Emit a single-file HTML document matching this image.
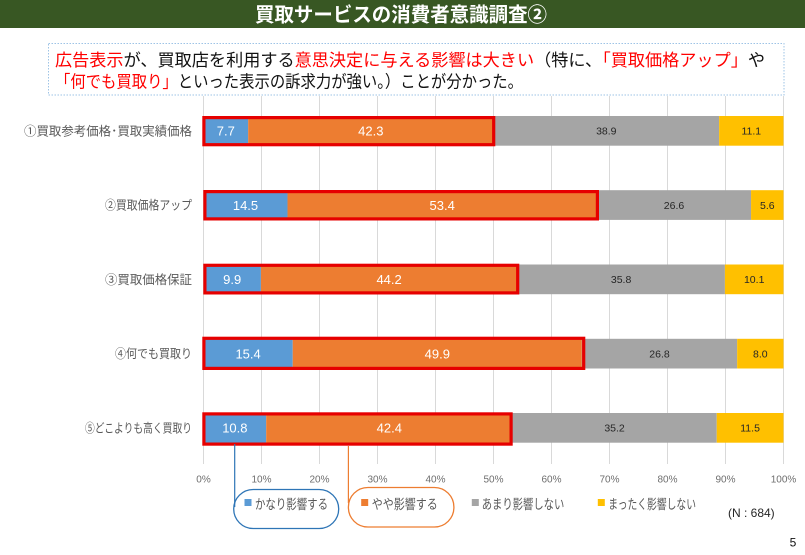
<!DOCTYPE html>
<html><head><meta charset="utf-8"><style>
html,body{margin:0;padding:0;background:#fff;}
svg{display:block;}
text{font-family:"Liberation Sans","Noto Sans CJK JP",sans-serif;}
</style></head><body>
<svg width="805" height="555" viewBox="0 0 805 555" xmlns="http://www.w3.org/2000/svg">
<rect x="0" y="0" width="805" height="555" fill="#fff"/>
<!-- title bar -->
<rect x="0" y="0" width="805" height="28" fill="#385723"/>
<text x="255" y="21.5" font-size="20" font-weight="bold" fill="#fff" textLength="292" lengthAdjust="spacingAndGlyphs">買取サービスの消費者意識調査②</text>

<!-- text box -->
<rect x="48.5" y="43.5" width="735.5" height="51.5" fill="#fff" stroke="#9dc3e6" stroke-width="1" stroke-dasharray="1.5,1.5"/>
<text x="55" y="66" font-size="17" fill="#111" textLength="710" lengthAdjust="spacingAndGlyphs"><tspan fill="#ff0000">広告表示</tspan>が、買取店を利用する<tspan fill="#ff0000">意思決定に与える影響は大きい</tspan>（特に、<tspan fill="#ff0000">「買取価格アップ」</tspan>や</text>
<text x="55" y="87.5" font-size="17" fill="#111" textLength="468" lengthAdjust="spacingAndGlyphs"><tspan fill="#ff0000">「何でも買取り」</tspan>といった表示の訴求力が強い。）ことが分かった。</text>

<!-- gridlines -->
<g stroke="#d9d9d9" stroke-width="1">
<line x1="203.5" y1="96" x2="203.5" y2="464"/>
<line x1="261.5" y1="96" x2="261.5" y2="464"/>
<line x1="319.5" y1="96" x2="319.5" y2="464"/>
<line x1="377.5" y1="96" x2="377.5" y2="464"/>
<line x1="435.5" y1="96" x2="435.5" y2="464"/>
<line x1="493.5" y1="96" x2="493.5" y2="464"/>
<line x1="551.5" y1="96" x2="551.5" y2="464"/>
<line x1="609.5" y1="96" x2="609.5" y2="464"/>
<line x1="667.5" y1="96" x2="667.5" y2="464"/>
<line x1="725.5" y1="96" x2="725.5" y2="464"/>
<line x1="783.5" y1="96" x2="783.5" y2="464"/>
</g>

<!-- bars -->
<g>
<rect x="203.5" y="116" width="44.66" height="29.7" fill="#5b9bd5"/>
<rect x="248.16" y="116" width="245.34" height="29.7" fill="#ed7d31"/>
<rect x="493.5" y="116" width="225.62" height="29.7" fill="#a5a5a5"/>
<rect x="719.12" y="116" width="64.38" height="29.7" fill="#ffc000"/>

<rect x="203.5" y="190.2" width="84.02" height="29.7" fill="#5b9bd5"/>
<rect x="287.52" y="190.2" width="309.41" height="29.7" fill="#ed7d31"/>
<rect x="596.93" y="190.2" width="154.12" height="29.7" fill="#a5a5a5"/>
<rect x="751.05" y="190.2" width="32.45" height="29.7" fill="#ffc000"/>

<rect x="203.5" y="264.5" width="57.42" height="29.7" fill="#5b9bd5"/>
<rect x="260.92" y="264.5" width="256.36" height="29.7" fill="#ed7d31"/>
<rect x="517.28" y="264.5" width="207.64" height="29.7" fill="#a5a5a5"/>
<rect x="724.92" y="264.5" width="58.58" height="29.7" fill="#ffc000"/>

<rect x="203.5" y="338.8" width="89.23" height="29.7" fill="#5b9bd5"/>
<rect x="292.73" y="338.8" width="289.13" height="29.7" fill="#ed7d31"/>
<rect x="581.86" y="338.8" width="155.29" height="29.7" fill="#a5a5a5"/>
<rect x="737.15" y="338.8" width="46.35" height="29.7" fill="#ffc000"/>

<rect x="203.5" y="413" width="62.7" height="29.7" fill="#5b9bd5"/>
<rect x="266.2" y="413" width="246.17" height="29.7" fill="#ed7d31"/>
<rect x="512.37" y="413" width="204.36" height="29.7" fill="#a5a5a5"/>
<rect x="716.73" y="413" width="66.77" height="29.7" fill="#ffc000"/>
</g>

<!-- red outlines -->
<g fill="none" stroke="#e60000" stroke-width="3.2">
<rect x="203.9" y="117.6" width="289.8" height="27.1"/>
<rect x="204.9" y="191.6" width="392.5" height="27.3"/>
<rect x="204.9" y="265.3" width="312.8" height="27.6"/>
<rect x="203.9" y="338.3" width="379.8" height="30.1"/>
<rect x="203.9" y="413.9" width="307.2" height="30.2"/>
</g>

<!-- data labels white -->
<g font-size="13" fill="#fff" text-anchor="middle">
<text x="225.8" y="135.6">7.7</text>
<text x="370.8" y="135.6">42.3</text>
<text x="245.5" y="209.8">14.5</text>
<text x="442.2" y="209.8">53.4</text>
<text x="232.2" y="284.1">9.9</text>
<text x="389.1" y="284.1">44.2</text>
<text x="248.1" y="358.4">15.4</text>
<text x="437.3" y="358.4">49.9</text>
<text x="234.85" y="432.6">10.8</text>
<text x="389.3" y="432.6">42.4</text>
</g>
<!-- data labels dark -->
<g font-size="10.5" fill="#262626" text-anchor="middle">
<text x="606.3" y="134.7">38.9</text>
<text x="751.3" y="134.7">11.1</text>
<text x="674.0" y="208.9">26.6</text>
<text x="767.3" y="208.9">5.6</text>
<text x="621.1" y="283.2">35.8</text>
<text x="754.2" y="283.2">10.1</text>
<text x="659.5" y="357.5">26.8</text>
<text x="760.3" y="357.5">8.0</text>
<text x="614.55" y="431.7">35.2</text>
<text x="750.1" y="431.7">11.5</text>
</g>

<!-- category labels -->
<g font-size="12.5" fill="#595959" text-anchor="end">
<text x="192" y="135.4" textLength="168" lengthAdjust="spacingAndGlyphs">①買取参考価格･買取実績価格</text>
<text x="192" y="209.6" textLength="87" lengthAdjust="spacingAndGlyphs">②買取価格アップ</text>
<text x="192" y="283.9" textLength="87" lengthAdjust="spacingAndGlyphs">③買取価格保証</text>
<text x="192" y="358.2" textLength="77" lengthAdjust="spacingAndGlyphs">④何でも買取り</text>
<text x="192" y="432.4" textLength="107" lengthAdjust="spacingAndGlyphs">⑤どこよりも高く買取り</text>
</g>

<!-- axis tick labels -->
<g font-size="10" fill="#6e6e6e" text-anchor="middle">
<text x="203.5" y="482.6">0%</text>
<text x="261.5" y="482.6">10%</text>
<text x="319.5" y="482.6">20%</text>
<text x="377.5" y="482.6">30%</text>
<text x="435.5" y="482.6">40%</text>
<text x="493.5" y="482.6">50%</text>
<text x="551.5" y="482.6">60%</text>
<text x="609.5" y="482.6">70%</text>
<text x="667.5" y="482.6">80%</text>
<text x="725.5" y="482.6">90%</text>
<text x="783.5" y="482.6">100%</text>
</g>

<!-- connector lines and pills -->
<line x1="234.7" y1="444" x2="234.7" y2="507" stroke="#2e75b6" stroke-width="1.2"/>
<line x1="348.4" y1="446" x2="348.4" y2="503" stroke="#ed7d31" stroke-width="1.2"/>
<rect x="233.7" y="489.5" width="105" height="39" rx="19.5" fill="none" stroke="#2e75b6" stroke-width="1.3"/>
<rect x="348.4" y="487.5" width="105.5" height="39.5" rx="19.5" fill="none" stroke="#ed7d31" stroke-width="1.3"/>

<!-- legend -->
<rect x="244.5" y="499" width="7" height="7" fill="#5b9bd5"/>
<rect x="361.2" y="499" width="7" height="7" fill="#ed7d31"/>
<rect x="471.8" y="499" width="7" height="7" fill="#a5a5a5"/>
<rect x="597.8" y="499" width="7" height="7" fill="#ffc000"/>
<g font-size="13.5" fill="#595959">
<text x="255" y="508.8" textLength="73" lengthAdjust="spacingAndGlyphs">かなり影響する</text>
<text x="371.7" y="508.8" textLength="66" lengthAdjust="spacingAndGlyphs">やや影響する</text>
<text x="481.7" y="508.8" textLength="82.6" lengthAdjust="spacingAndGlyphs">あまり影響しない</text>
<text x="608.3" y="508.8" textLength="87.7" lengthAdjust="spacingAndGlyphs">まったく影響しない</text>
</g>

<text x="728" y="516.8" font-size="12" fill="#262626">(N : 684)</text>
<text x="793" y="546.3" font-size="12" fill="#111" text-anchor="middle">5</text>
</svg>
</body></html>
